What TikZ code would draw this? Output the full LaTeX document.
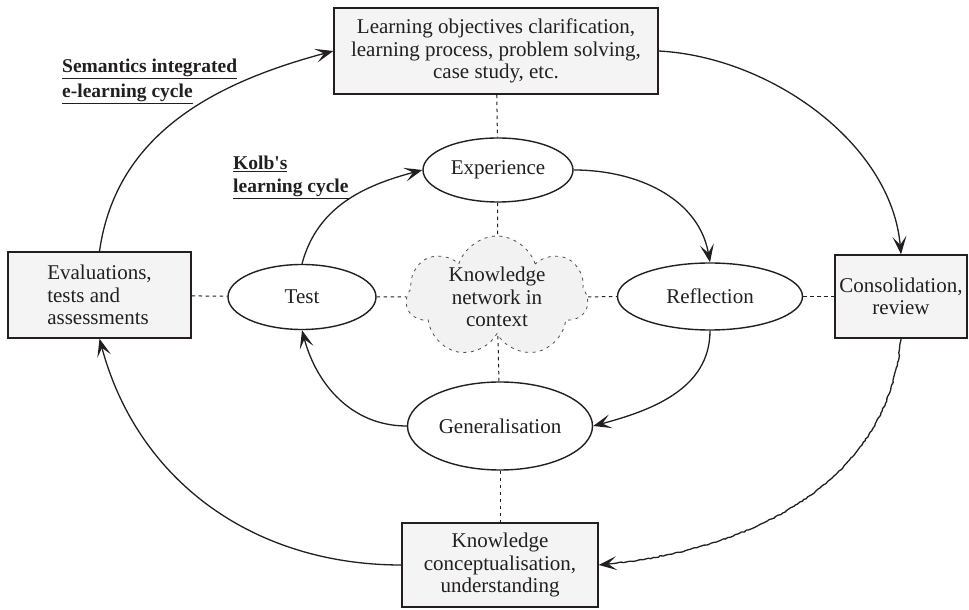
\documentclass[tikz,border=0pt]{standalone}
\usepackage{fontspec}
\setmainfont{Liberation Serif}
\usetikzlibrary{shapes.geometric,shapes.symbols,arrows.meta,decorations.pathmorphing,backgrounds}
\definecolor{ink}{HTML}{231F20}
\definecolor{boxfill}{HTML}{F3F4F3}
\definecolor{cloudfill}{HTML}{F1F2F1}
\begin{document}
\begin{tikzpicture}[x=1pt,y=1pt,
  every node/.style={text=ink},
  box/.style={draw=ink, line width=1.4pt, fill=boxfill, inner sep=0pt, align=center, font={\fontsize{21}{22.5}\selectfont}},
  oval/.style={ellipse, draw=ink, line width=1.4pt, fill=white, inner sep=0pt, font={\fontsize{21}{22.5}\selectfont}},
  flow/.style={draw=ink, line width=1.3pt, -{Stealth[length=18pt,width=14pt,inset=8.5pt]}},
  link/.style={draw=ink, line width=1pt, dash pattern=on 3.5pt off 3.5pt},
  lbl/.style={font={\fontsize{19.5}{22}\selectfont\bfseries}, anchor=base west, inner sep=0pt}
]
\useasboundingbox (0,0) rectangle (969,610);

% nodes
\node[box, minimum width=324pt, minimum height=86pt] (top) at (496,559) {Learning objectives clarification,\\learning process, problem solving,\\case study, etc.};
\node[oval, minimum width=150pt, minimum height=64pt] (exp) at (498,440) {Experience};
\node[oval, minimum width=185pt, minimum height=67pt] (refl) at (710,313.5) {Reflection};
\node[box, minimum width=132pt, minimum height=83pt] (cons) at (901,313.5) {Consolidation,\\review};
\node[oval, minimum width=148pt, minimum height=65pt] (test) at (302,313) {Test};
\node[box, align=left, minimum width=183pt, minimum height=86pt] (eval) at (99.5,315) {Evaluations,\\tests and\\assessments};
\node[oval, minimum width=185pt, minimum height=88pt] (gen) at (500,184) {Generalisation};
\node[box, minimum width=196pt, minimum height=84pt] (know) at (500,45) {Knowledge\\conceptualisation,\\understanding};
\node[cloud, cloud puffs=7, cloud puff arc=145, cloud ignores aspect, draw=ink!80, line width=0.8pt, dash pattern=on 3pt off 4.5pt, fill=cloudfill, minimum width=182pt, minimum height=122pt, inner sep=0pt, align=center, font={\fontsize{21}{22.5}\selectfont}] (net) at (497,313) {Knowledge\\network in\\context};

% labels
\node[lbl] (sem1) at (62,537) {\underline{Semantics integrated}};
\node[lbl] (sem2) at (62,512) {\underline{e-learning cycle}};
\node[lbl] (kolb1) at (233,440) {\underline{Kolb\textquotesingle s}};
\node[lbl] (kolb2) at (233,417) {\underline{learning cycle}};

% dotted links
\begin{pgfonlayer}{background}
\draw[link] (top) -- (exp);
\draw[link] (exp) -- (net);
\draw[link] (net) -- (gen);
\draw[link] (gen) -- (know);
\draw[link] (eval) -- (test);
\draw[link] (test) -- (net);
\draw[link] (net) -- (refl);
\draw[link] (refl) -- (cons);
\end{pgfonlayer}

% Kolb cycle
\draw[flow] (test.north) to[out=75,in=195] (exp.west);
\draw[flow] (exp.east) to[out=0,in=100] (refl.north);
\draw[flow] (refl.south) to[out=-90,in=15] (gen.east);
\draw[flow] (gen.west) to[out=180,in=-75] (test.south);

% outer cycle
\draw[flow] (eval.north) to[out=82,in=195] (top.west);
\draw[flow] (top.east) to[out=-3,in=95,looseness=0.9] (cons.north);
\draw[flow, decorate, decoration={random steps, segment length=2.5pt, amplitude=0.6pt, pre length=2pt, post length=18pt}] (cons.south) to[out=-95,in=5] (know.east);
\draw[flow] (know.west) to[out=180,in=-75] (eval.south);
\end{tikzpicture}
\end{document}
